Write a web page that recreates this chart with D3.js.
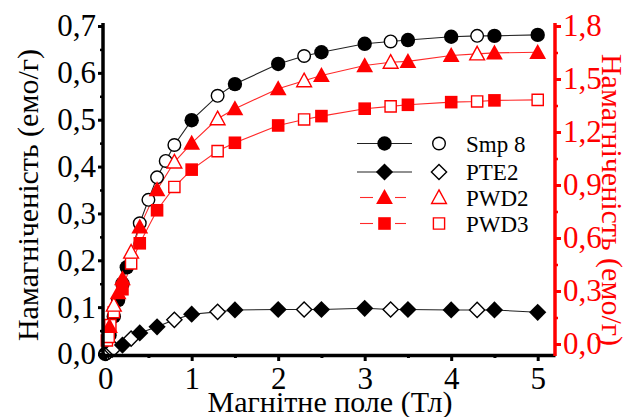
<!DOCTYPE html>
<html><head><meta charset="utf-8">
<script src="https://cdn.jsdelivr.net/npm/d3@7"></script>
<style>body{margin:0;background:#fff}svg{display:block}</style>
</head><body>
<script>
// ---- data ----
const xTicks = [0,1,2,3,4,5];
const xMinor = [0.5,1.5,2.5,3.5,4.5];
const leftTicks = [0,0.1,0.2,0.3,0.4,0.5,0.6,0.7];
const leftMinor = [0.05,0.15,0.25,0.35,0.45,0.55,0.65];
const rightTicks = [0,0.3,0.6,0.9,1.2,1.5,1.8];
const rightMinor = [0.15,0.45,0.75,1.05,1.35,1.65];

const smp8FilledX = [0,0.05,0.1,0.15,0.2,0.25,1.0,1.5,2.0,2.5,3.0,3.5,4.0,4.5,5.0];
const smp8FilledY = [0.0,0.04,0.08,0.115,0.15,0.185,0.499,0.576,0.619,0.644,0.662,0.670,0.677,0.679,0.681];
const smp8OpenX = [0.4,0.5,0.6,0.7,0.8,1.3,2.3,3.3,4.3];
const smp8OpenY = [0.279,0.329,0.377,0.412,0.446,0.551,0.636,0.667,0.679];

const pte2FilledX = [0.2,0.4,0.6,1.0,1.5,2.0,2.5,3.0,3.5,4.0,4.5,5.0];
const pte2FilledY = [0.019,0.045,0.058,0.085,0.094,0.095,0.095,0.0975,0.095,0.094,0.094,0.089];
const pte2OpenX = [0.02,0.05,0.08,0.1,0.3,0.8,1.3,2.3,3.3,4.3];
const pte2OpenY = [0.003,0.006,0.009,0.012,0.033,0.073,0.090,0.095,0.095,0.094];

const pwd2FilledX = [0.05,0.15,0.2,0.4,0.6,1.0,1.5,2.0,2.5,3.0,3.5,4.0,4.5,5.0];
const pwd2FilledY = [0.1,0.29,0.37,0.663,0.874,1.137,1.332,1.445,1.520,1.576,1.600,1.633,1.648,1.651];
const pwd2OpenX = [0.1,0.3,0.8,1.3,2.3,3.3,4.3];
const pwd2OpenY = [0.22,0.52,1.03,1.275,1.49,1.595,1.642];

const pwd3FilledX = [0.2,0.4,0.6,1.0,1.5,2.0,2.5,3.0,3.5,4.0,4.5];
const pwd3FilledY = [0.31,0.57,0.757,0.987,1.139,1.237,1.29,1.332,1.354,1.369,1.379];
const pwd3OpenX = [0.02,0.04,0.06,0.1,0.3,0.8,1.3,2.3,3.3,4.3,5.0];
const pwd3OpenY = [0.02,0.04,0.107,0.18,0.456,0.889,1.092,1.271,1.345,1.373,1.382];

const legendLabels = ["Smp 8","PTE2","PWD2","PWD3"];

// ---- layout ----
const W = 628, H = 417;
const FONT = "Liberation Serif, Times New Roman, serif";
const RED = "#ff0000";
const svg = d3.select("body").append("svg").attr("width", W).attr("height", H)
  .attr("font-family", FONT);

const x = d3.scaleLinear().domain([-0.025, 5.2]).range([103, 555]);
const yL = d3.scaleLinear().domain([0, 0.7]).range([354, 26]);
const yR = d3.scaleLinear().domain([-0.0566, 1.8]).range([354, 26]);

const fmt1 = d => d3.format(".1f")(d).replace(".", ",");

// ---- series ----
function zip(xs, ys){ return xs.map((v,i)=>({x:v,y:ys[i]})); }
const series = [
  {name:"Smp 8", shape:"circle", color:"#000", line:"#222", y:yL, filled:zip(smp8FilledX,smp8FilledY), open:zip(smp8OpenX,smp8OpenY)},
  {name:"PTE2", shape:"diamond", color:"#000", line:"#222", y:yL, filled:zip(pte2FilledX,pte2FilledY), open:zip(pte2OpenX,pte2OpenY)},
  {name:"PWD3", shape:"square", color:RED, line:"#ff2a2a", y:yR, filled:zip(pwd3FilledX,pwd3FilledY), open:zip(pwd3OpenX,pwd3OpenY)},
  {name:"PWD2", shape:"triangle", color:RED, line:"#ff2a2a", y:yR, filled:zip(pwd2FilledX,pwd2FilledY), open:zip(pwd2OpenX,pwd2OpenY)}
];

function shapePath(shape, open){
  if (shape === "circle") { const r = open ? 6.3 : 7.2; return `M${-r},0A${r},${r} 0 1,0 ${r},0A${r},${r} 0 1,0 ${-r},0Z`; }
  if (shape === "diamond") { const h = open ? 7.6 : 8.6; return `M0,${-h}L${h},0L0,${h}L${-h},0Z`; }
  if (shape === "square") { const s = open ? 5.6 : 6.3; return `M${-s},${-s}H${s}V${s}H${-s}Z`; }
  if (shape === "triangle") { const w = open ? 7.4 : 8.4, t = open ? 7.6 : 8.4, b = open ? 6.0 : 6.6; return `M0,${-t}L${w},${b}L${-w},${b}Z`; }
}

const plot = svg.append("g");
series.forEach(s => {
  const all = s.filled.concat(s.open).sort((a,b)=>a.x-b.x);
  plot.append("path").datum(all)
    .attr("fill","none").attr("stroke", s.line).attr("stroke-width", 1.1)
    .attr("d", d3.line().x(d=>x(d.x)).y(d=>s.y(d.y)));
});
series.forEach(s => {
  plot.selectAll(null).data(s.open).enter().append("path")
    .attr("transform", d=>`translate(${x(d.x)},${s.y(d.y)})`)
    .attr("d", shapePath(s.shape, true))
    .attr("fill","#fff").attr("stroke", s.color).attr("stroke-width", 1.4);
  plot.selectAll(null).data(s.filled).enter().append("path")
    .attr("transform", d=>`translate(${x(d.x)},${s.y(d.y)})`)
    .attr("d", shapePath(s.shape, false))
    .attr("fill", s.color);
});

// ---- axes ----
function styleAxis(g, color, width){
  g.attr("font-family", FONT);
  g.select(".domain").attr("stroke", color).attr("stroke-width", width);
  g.selectAll(".tick line").attr("stroke", color).attr("stroke-width", 3);
  g.selectAll(".tick text").attr("fill", color).attr("font-family", FONT);
}
// bottom
const gxMinor = svg.append("g").attr("transform","translate(0,355)")
  .call(d3.axisBottom(x).tickValues(xMinor).tickSize(3).tickFormat(""));
gxMinor.select(".domain").remove();
gxMinor.selectAll(".tick line").attr("stroke","#000").attr("stroke-width",3);
const gx = svg.append("g").attr("transform","translate(0,355)")
  .call(d3.axisBottom(x).tickValues(xTicks).tickSize(6).tickSizeOuter(0).tickPadding(6).tickFormat(d3.format("d")));
styleAxis(gx, "#000", 3.5);
gx.selectAll(".tick text").attr("font-size", 31);

// left
const gyMinor = svg.append("g").attr("transform","translate(103,0)")
  .call(d3.axisLeft(yL).tickValues(leftMinor).tickSize(3).tickFormat(""));
gyMinor.select(".domain").remove();
gyMinor.selectAll(".tick line").attr("stroke","#000").attr("stroke-width",2.5);
const gy = svg.append("g").attr("transform","translate(103,0)")
  .call(d3.axisLeft(yL).tickValues(leftTicks).tickSize(5).tickSizeOuter(0).tickPadding(2).tickFormat(fmt1));
styleAxis(gy, "#000", 3.5);
gy.select(".domain").attr("d", "M0,356V23");
gy.selectAll(".tick text").attr("font-size", 31);

// right
const grMinor = svg.append("g").attr("transform","translate(555,0)")
  .call(d3.axisRight(yR).tickValues(rightMinor).tickSize(3).tickFormat(""));
grMinor.select(".domain").remove();
grMinor.selectAll(".tick line").attr("stroke",RED).attr("stroke-width",2.5);
const gr = svg.append("g").attr("transform","translate(555,0)")
  .call(d3.axisRight(yR).tickValues(rightTicks).tickSize(6).tickSizeOuter(0).tickPadding(2).tickFormat(fmt1));
styleAxis(gr, RED, 3.5);
gr.select(".domain").attr("d", "M0,356V23");
gr.selectAll(".tick text").attr("font-size", 31);

// titles
svg.append("text").attr("transform","translate(38,195) rotate(-90)")
  .attr("text-anchor","middle").attr("font-size",30).attr("fill","#000")
  .text("Намагніченість (емо/г)");
svg.append("text").attr("transform","translate(602,200) rotate(90)")
  .attr("text-anchor","middle").attr("font-size",30).attr("fill",RED)
  .text("Намагніченість (емо/г)");
svg.append("text").attr("x",330).attr("y",412)
  .attr("text-anchor","middle").attr("font-size",30).attr("fill","#000")
  .text("Магнітне поле (Тл)");

// legend
const legendOrder = [series[0], series[1], series[3], series[2]];
const rowsY = [143.5, 172, 197.5, 223.5];
legendOrder.forEach((s,i) => {
  const g = svg.append("g").attr("transform", `translate(0,${rowsY[i]})`);
  if (s.color === RED) {
    g.append("line").attr("x1",360).attr("x2",373).attr("stroke",s.line).attr("stroke-width",1.1);
    g.append("line").attr("x1",395).attr("x2",406).attr("stroke",s.line).attr("stroke-width",1.1);
  } else {
    g.append("line").attr("x1",357).attr("x2",412).attr("stroke",s.line).attr("stroke-width",1.1);
  }
  g.append("path").attr("transform","translate(384.5,0)").attr("d", shapePath(s.shape,false)).attr("fill", s.color);
  g.append("path").attr("transform","translate(439,0)").attr("d", shapePath(s.shape,true))
    .attr("fill","#fff").attr("stroke", s.color).attr("stroke-width",1.4);
  g.append("text").attr("x",466).attr("y",8).attr("font-size",23).attr("fill","#000").text(legendLabels[i]);
});
</script>
</body></html>
